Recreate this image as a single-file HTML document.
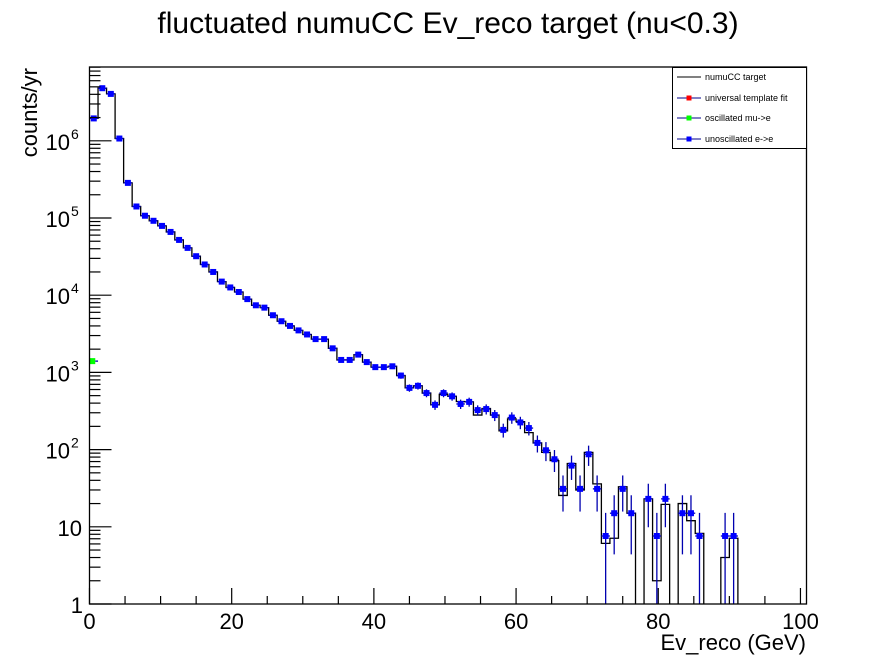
<!DOCTYPE html>
<html><head><meta charset="utf-8"><style>
html,body{margin:0;padding:0;background:#fff;}
svg{display:block;font-family:"Liberation Sans",Arial,sans-serif;}
</style></head><body>
<svg id="chart" width="896" height="672" viewBox="0 0 896 672" xmlns="http://www.w3.org/2000/svg">
<rect x="0" y="0" width="896" height="672" fill="#fff"/>
<text x="448" y="33" font-size="30" text-anchor="middle">fluctuated numuCC Ev_reco target (nu&lt;0.3)</text>
<text transform="translate(37,68) rotate(-90)" font-size="22" text-anchor="end">counts/yr</text>
<text x="806" y="650" font-size="22" text-anchor="end">Ev_reco (GeV)</text>
<g id="plot"></g>
<g id="legend">
<rect x="672.5" y="67.5" width="134" height="81" fill="#fff" stroke="#000" stroke-width="1"/>
<g><line x1="677" y1="77" x2="701" y2="77" stroke="#000"/><text x="705" y="80" font-size="9">numuCC target</text></g>
<g><line x1="677" y1="98" x2="701" y2="98" stroke="#00008b"/><rect x="686.5" y="95.5" width="5" height="5" fill="#f00"/><text x="705" y="101" font-size="9">universal template fit</text></g>
<g><line x1="677" y1="118" x2="701" y2="118" stroke="#00008b"/><rect x="686.5" y="115.5" width="5" height="5" fill="#0f0"/><text x="705" y="121" font-size="9">oscillated mu-&gt;e</text></g>
<g><line x1="677" y1="139" x2="701" y2="139" stroke="#00008b"/><rect x="686.5" y="136.5" width="5" height="5" fill="#00f"/><text x="705" y="142" font-size="9">unoscillated e-&gt;e</text></g>
</g>
</svg>
<script>
const binWidth = 1.2;
const histValues = [1.95e6,4.8e6,4.05e6,1.07e6,2.85e5,1.41e5,1.07e5,9.2e4,7.9e4,6.6e4,5.2e4,4.1e4,3.2e4,2.5e4,2.0e4,1.5e4,1.26e4,1.1e4,8.9e3,7.4e3,6.9e3,5.5e3,
4.6e3,4.0e3,3.5e3,3.1e3,2.7e3,2.7e3,2.05e3,1.45e3,1.45e3,1.7e3,1.36e3,1.17e3,1.17e3,1.2e3,910,630,670,540,380,
520,490,420,415,280,340,280,175,250,230,166,122,
92,72,25.5,66,30,92,36,6.1,7.1,33,15,0,23,2,19.5,0,20,12,8.2,0,0,4,7.1,0,0,0,0,0,0,0,0];
const pointValues = [1.95e6,4.8e6,4.05e6,1.07e6,2.85e5,1.41e5,1.07e5,9.2e4,7.9e4,6.6e4,5.2e4,4.1e4,3.2e4,2.5e4,2.0e4,1.5e4,1.26e4,1.1e4,8.9e3,7.4e3,6.9e3,5.5e3,
4.6e3,4.0e3,3.5e3,3.1e3,2.7e3,2.7e3,2.05e3,1.45e3,1.45e3,1.7e3,1.36e3,1.17e3,1.17e3,1.2e3,910,630,670,540,380,
540,490,390,415,325,335,280,180,260,225,190,122,
98,75,31,62,31,87,31,7.6,15,31,15,0,23,7.6,23,0,15,15,7.6,0,0,7.6,7.6];
const oscValues = [1.4e3];
const errScale = 7.5;
const xTickLabels = ["0","20","40","60","80","100"];
const xTickValues = [0,20,40,60,80,100];
const yTickExps = [0,1,2,3,4,5,6];

const X0=89.5, XR=806.5, YB=604, YT=67, XMAX=100.85, DEC=77.2;
const NS="http://www.w3.org/2000/svg";
function xs(v){return X0+(XR-X0)*v/XMAX;}
function ys(v){ if(v<=0) return YB+50; return YB-DEC*Math.log10(v);}
const plot=document.getElementById('plot');
function mk(tag,attrs,parent){const e=document.createElementNS(NS,tag);for(const k in attrs)e.setAttribute(k,attrs[k]);(parent||plot).appendChild(e);return e;}

const defs=mk('defs',{});
const cp=mk('clipPath',{id:'clip'},defs);
mk('rect',{x:X0,y:YT,width:XR-X0,height:YB-YT},cp);

let d='';
for(let i=0;i<histValues.length;i++){
  const xa=xs(i*binWidth), xb=xs((i+1)*binWidth), y=ys(histValues[i]);
  d+=(i===0?'M'+xa+','+y:'L'+xa+','+y)+'L'+xb+','+y;
}
const hp=mk('path',{d:d,fill:'none',stroke:'#000','stroke-width':1.3,'clip-path':'url(#clip)'});



const pg=mk('g',{'clip-path':'url(#clip)'});


for(let i=0;i<pointValues.length;i++){
  const v=pointValues[i]; if(v<=0) continue;
  const xc=xs((i+0.5)*binWidth), y=ys(v);
  const s=Math.sqrt(errScale*v);
  const yl=v-s>0?ys(v-s):YB+10, yh=ys(v+s);
  const g=mk('g',{},pg);
  
  
  mk('line',{x1:xs(i*binWidth),x2:xs((i+1)*binWidth),y1:y,y2:y,stroke:'#0000b0','stroke-width':1.3},g);
  mk('line',{x1:xc,x2:xc,y1:yl,y2:yh,stroke:'#0000b0','stroke-width':1.3},g);
  mk('rect',{x:xc-3,y:y-3,width:6,height:6,fill:'#0000ff'},g);
}
for(let i=0;i<oscValues.length;i++){
  const xc=xs((i+0.5)*binWidth)-1.5, y=ys(oscValues[i]);
  const r=mk('rect',{x:xc-3,y:y-3,width:6,height:6,fill:'#00ff00'});
  
  
  mk('line',{x1:xc+3,x2:xs(binWidth),y1:y,y2:y,stroke:'#0000b0','stroke-width':1.3});
}

const fr=mk('rect',{x:X0,y:YT,width:XR-X0,height:YB-YT,fill:'none',stroke:'#000','stroke-width':1.3});



for(let v=0;v<=100;v+=5){
  const major=(v%20===0);
  const l=mk('line',{x1:xs(v),x2:xs(v),y1:YB,y2:YB-(major?16:8),stroke:'#000','stroke-width':1.2});
  
  
}
for(let i=0;i<xTickValues.length;i++){
  const t=mk('text',{x:xs(xTickValues[i]),y:629,'font-size':22,'text-anchor':'middle'});
  t.textContent=xTickLabels[i];
  
  
}
const ytop=Math.pow(10,(YB-YT)/DEC);
for(let e=0;e<=7;e++){
  for(let m=1;m<=9;m++){
    const v=m*Math.pow(10,e); if(v>ytop) break;
    const y=ys(v);
    const l=mk('line',{x1:X0,x2:X0+(m===1?22:11),y1:y,y2:y,stroke:'#000','stroke-width':1.2});
    
    
  }
}
for(const e of yTickExps){
  const y=ys(Math.pow(10,e));
  const t=mk('text',{x:e===0?83:(e===1?82:70),y:y+9,'font-size':22,'text-anchor':'end'});
  t.textContent=(e===0?'1':'10');
  
  
  if(e>=2){
    const s=mk('text',{x:71,y:y-2,'font-size':14,'text-anchor':'start'});
    s.textContent=String(e);
    
    
  }
}
</script>
</body></html>
